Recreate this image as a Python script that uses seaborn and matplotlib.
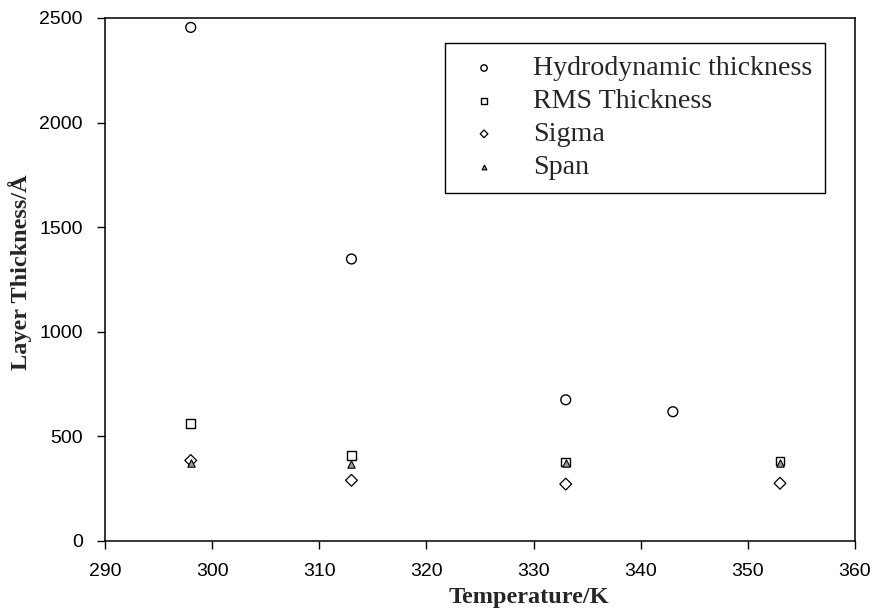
import numpy as np
import pandas as pd
import matplotlib
matplotlib.use("Agg")
import matplotlib.pyplot as plt
import seaborn as sns

# values
temps = [298, 313, 333, 353]
hydro_temps = [298, 313, 333, 343]
hydro = [2455, 1348, 675, 618]
rms = [562, 410, 378, 382]
sigma = [385, 290, 272, 276]
span = [372, 370, 372, 372]

labels = ['Hydrodynamic thickness', 'RMS Thickness', 'Sigma', 'Span']

sns.set_theme(style='ticks')
plt.rcParams['font.family'] = ['Liberation Sans', 'DejaVu Sans']

fig = plt.figure(figsize=(8.73, 6.08), dpi=100)
ax = fig.add_axes([0.1203, 0.1102, 0.8591, 0.8602])

sns.scatterplot(x=hydro_temps, y=hydro, marker='o', s=50, facecolor='none',
                edgecolor='black', linewidth=1.0, label=labels[0], ax=ax)
sns.scatterplot(x=temps, y=rms, marker='s', s=40, facecolor='none',
                edgecolor='black', linewidth=1.0, label=labels[1], ax=ax)
sns.scatterplot(x=temps, y=sigma, marker='D', s=36, facecolor='none',
                edgecolor='black', linewidth=0.9, label=labels[2], ax=ax)
sns.scatterplot(x=temps, y=span, marker='^', s=28, facecolor='#9a9a9a',
                edgecolor='black', linewidth=0.8, label=labels[3], ax=ax)

ax.set_xlim(290, 360)
ax.set_ylim(0, 2500)
ax.set_xticks(np.arange(290, 361, 10))
ax.set_yticks(np.arange(0, 2501, 500))
ax.tick_params(axis='both', labelsize=14, length=6, width=1, direction='out',
               color='black', labelcolor='black', pad=10)
for sp in ax.spines.values():
    sp.set_visible(True)
    sp.set_color('black')
    sp.set_linewidth(1.1)

serif = ['Liberation Serif', 'DejaVu Serif']
ax.set_xlabel('Temperature/K', fontsize=17.5, fontweight='bold', family=serif)
ax.set_ylabel('Layer Thickness/Å', fontsize=17.5, fontweight='bold', family=serif)
ax.xaxis.set_label_coords(0.565, -0.088)
ax.yaxis.set_label_coords(-0.098, 0.514)

leg = ax.legend(loc='upper right', bbox_to_anchor=(0.96, 0.952), borderaxespad=0,
                prop={'family': serif, 'size': 20.2}, markerscale=0.65,
                frameon=True, fancybox=False, framealpha=1, edgecolor='black',
                borderpad=0.45, handlelength=1.9, handletextpad=0.8,
                labelspacing=0.26)
leg.get_frame().set_linewidth(1.0)

fig.savefig('out.png', dpi=100)
